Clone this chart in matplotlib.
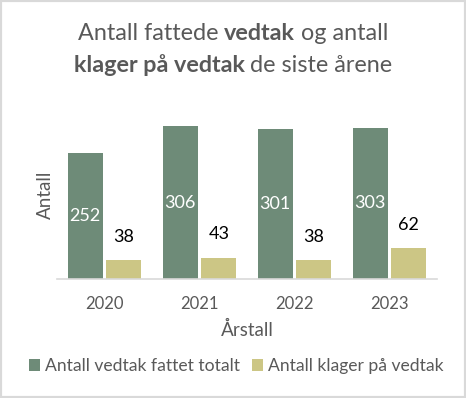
import matplotlib
matplotlib.use("Agg")
import matplotlib.pyplot as plt
from matplotlib.patches import Rectangle
import numpy as np

years = ["2020", "2021", "2022", "2023"]
vedtak = [252, 306, 301, 303]
klager = [38, 43, 38, 62]
series_names = ["Antall vedtak fattet totalt", "Antall klager på vedtak"]

GREEN = "#6E8B78"
KHAKI = "#CCC685"
TXT = "#595959"
FONT = "Lato"
plt.rcParams["font.family"] = [FONT, "DejaVu Sans"]

W, H = 466, 398
fig = plt.figure(figsize=(W / 100, H / 100), dpi=100)
fig.patches.append(Rectangle((0, 0), 1, 1, transform=fig.transFigure, fill=False,
                             edgecolor="#D9D9D9", linewidth=3, zorder=10))

ax = fig.add_axes([57 / W, 1 - 279 / H, 380 / W, 175 / H])
x = np.arange(len(years))
bw = 0.368
gap = 0.04
b1 = ax.bar(x - bw / 2 - gap / 2, vedtak, bw, color=GREEN, label=series_names[0])
b2 = ax.bar(x + bw / 2 + gap / 2, klager, bw, color=KHAKI, label=series_names[1])
ax.set_ylim(0, 350)
ax.set_xlim(-0.5, len(years) - 0.5)
for s in ["top", "right", "left"]:
    ax.spines[s].set_visible(False)
ax.spines["bottom"].set_color("#D9D9D9")
ax.spines["bottom"].set_linewidth(1.2)
ax.set_yticks([])
ax.set_xticks(x)
ax.set_xticklabels(years, fontsize=12, color=TXT)
ax.tick_params(axis="x", length=0, pad=12)

for rect, v in zip(b1, vedtak):
    ax.text(rect.get_x() + rect.get_width() / 2, v / 2, str(v), ha="center", va="center",
            color="white", fontsize=13)
for rect, v in zip(b2, klager):
    ax.annotate(str(v), (rect.get_x() + rect.get_width() / 2, v), xytext=(0, 11),
                textcoords="offset points", ha="center", va="bottom", color="black", fontsize=13)

fig.text(45 / W, 1 - 195 / H, "Antall", rotation=90, ha="center", va="center",
         color=TXT, fontsize=13.5)
fig.text(247 / W, 1 - 330 / H, "Årstall", ha="center", va="center", color=TXT, fontsize=13.5)

# title with mixed weights
fig.canvas.draw()
renderer = fig.canvas.get_renderer()
def mixed_line(parts, yc, size=16.8):
    texts = []
    widths = []
    for s, w in parts:
        t = fig.text(0, 1 - yc / H, s, fontsize=size, fontweight=w, color=TXT,
                     ha="left", va="center")
        bb = t.get_window_extent(renderer)
        texts.append(t)
        widths.append(bb.width)
    total = sum(widths)
    start = (W - total) / 2
    for t, wd in zip(texts, widths):
        t.set_x(start / W)
        start += wd

mixed_line([("Antall fattede ", "normal"), ("vedtak", "bold"), (" og antall", "normal")], 33)
mixed_line([("klager på vedtak", "bold"), (" de siste årene", "normal")], 65)

leg = fig.legend(handles=[b1, b2], loc="center", bbox_to_anchor=(236 / W, 1 - 366 / H),
                 ncol=2, frameon=False, fontsize=12.6, handlelength=0.65, handleheight=0.65,
                 handletextpad=0.25, columnspacing=0.7, labelcolor=TXT)

fig.savefig("out.png", dpi=100)
